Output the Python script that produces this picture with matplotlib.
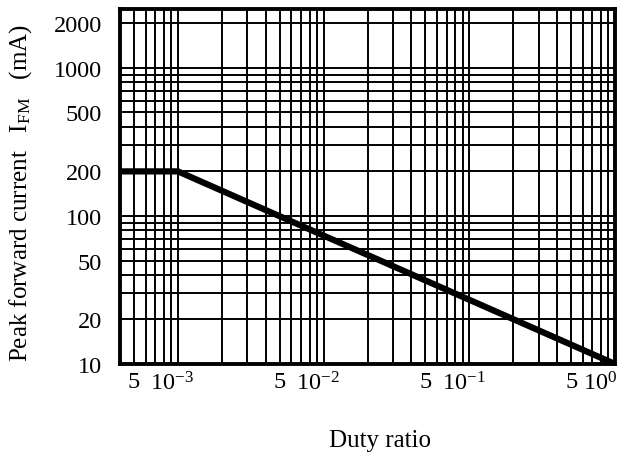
import matplotlib
matplotlib.use('Agg')
import matplotlib.pyplot as plt
import matplotlib.transforms as mtransforms
from matplotlib.ticker import FixedLocator, FixedFormatter, NullFormatter

plt.rcParams['font.family'] = ['Liberation Serif', 'DejaVu Serif']
plt.rcParams['mathtext.fontset'] = 'custom'
plt.rcParams['mathtext.rm'] = 'Liberation Serif'
plt.rcParams['mathtext.it'] = 'Liberation Serif:italic'

# derating curve
duty = [4e-4, 1e-3, 1.0]
current = [200, 200, 10]

x_major = [1e-3, 1e-2, 1e-1, 1e0]
x_major_labels = [r'$\mathregular{10^{-3}}$', r'$\mathregular{10^{-2}}$',
                  r'$\mathregular{10^{-1}}$', r'$\mathregular{10^{0}}$']
x_five = [5e-4, 5e-3, 5e-2, 5e-1]
y_ticks = [10, 20, 50, 100, 200, 500, 1000, 2000]

fig = plt.figure(figsize=(6.3, 4.6), dpi=100)
ax = fig.add_axes([120/630, 1-365/460, 495/630, 355/460])

ax.set_xscale('log')
ax.set_yscale('log')
ax.set_xlim(4e-4, 1.0)
ax.set_ylim(10, 2500)

# grid lines at every 1..9 step of each decade
xs = [m * 10.0**e for e in range(-4, 1) for m in range(1, 10)]
ys = [m * 10.0**e for e in range(1, 4) for m in range(1, 10)]
for x in xs:
    if 4e-4 < x < 1.0:
        ax.axvline(x, color='black', lw=1.4, zorder=1)
for y in ys:
    if 10 < y < 2500:
        ax.axhline(y, color='black', lw=1.4, zorder=1)

ax.plot(duty, current, color='black', lw=4.5, solid_capstyle='butt', zorder=3)

ax.xaxis.set_major_locator(FixedLocator(x_major))
ax.xaxis.set_major_formatter(FixedFormatter(x_major_labels))
ax.xaxis.set_minor_locator(FixedLocator(x_five))
ax.xaxis.set_minor_formatter(FixedFormatter(['5'] * 4))
ax.yaxis.set_major_locator(FixedLocator(y_ticks))
ax.yaxis.set_major_formatter(FixedFormatter([str(v) for v in y_ticks]))
ax.yaxis.set_minor_formatter(NullFormatter())
ax.yaxis.set_minor_locator(FixedLocator([]))

ax.tick_params(axis='both', which='both', length=0, labelsize=17.5)
ax.tick_params(axis='x', which='both', pad=5)
ax.tick_params(axis='y', pad=13)

# the decade labels sit a little left of their grid line, like the datasheet
shift = mtransforms.ScaledTranslation(-6/100, 0, fig.dpi_scale_trans)
labels = ax.get_xticklabels()
for lab in labels:
    lab.set_transform(lab.get_transform() + shift)
labels[-1].set_ha('right')
labels[-1].set_transform(labels[-1].get_transform()
                         + mtransforms.ScaledTranslation(8/100, 0, fig.dpi_scale_trans))

for s in ax.spines.values():
    s.set_linewidth(2.8)
    s.set_color('black')

fig.text(21/630, 1-193/460, 'Peak forward current   $\\mathregular{I_{FM}}$   (mA)',
         rotation=90, ha='center', va='center', fontsize=18)
fig.text(380/630, 1-441/460, 'Duty ratio', ha='center', va='center', fontsize=18)

fig.savefig('out.png', dpi=100)
